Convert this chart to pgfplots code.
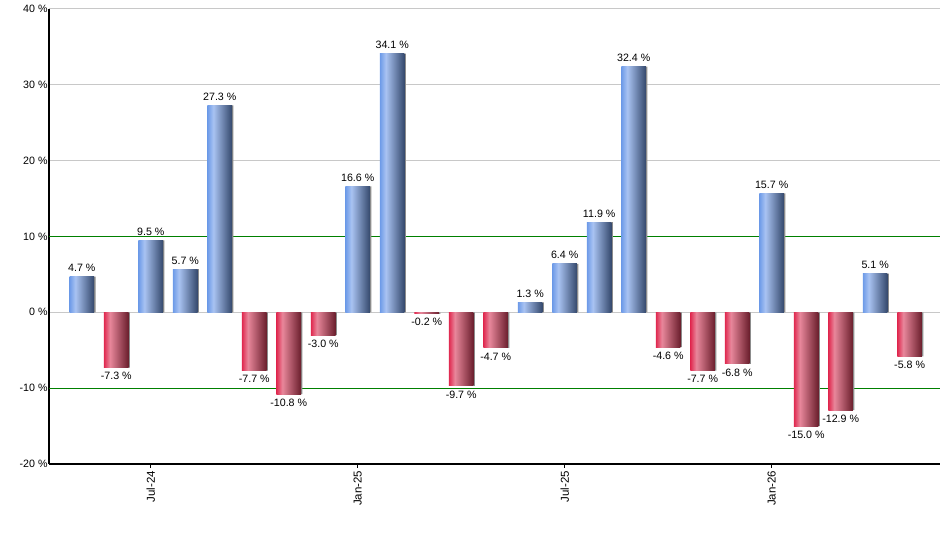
\documentclass[border=0pt]{standalone}
\usepackage{pgfplots}
\usepackage{pgfplotstable}
\pgfplotsset{compat=1.18}
\usepackage{fontspec}
\setmainfont{Liberation Sans}

\definecolor{b1}{HTML}{6E9BE8}
\definecolor{b2}{HTML}{A9C3F2}
\definecolor{b3}{HTML}{34486C}
\definecolor{r1}{HTML}{E02A50}
\definecolor{r2}{HTML}{E8879B}
\definecolor{r3}{HTML}{6A1E2C}
\definecolor{gridgray}{HTML}{C8C8C8}
\definecolor{limitgreen}{HTML}{008000}
\definecolor{shadowgray}{HTML}{8C8C8C}

\pgfdeclarehorizontalshading{bluebar}{100bp}{color(0bp)=(b1); color(25bp)=(b1); color(37bp)=(b2); color(75bp)=(b3); color(100bp)=(b3)}
\pgfdeclarehorizontalshading{redbar}{100bp}{color(0bp)=(r1); color(25bp)=(r1); color(37bp)=(r2); color(75bp)=(r3); color(100bp)=(r3)}

% monthly returns, May-24 .. May-26 (index 0..24)
\pgfplotstableread{
x y
0 4.7
1 -7.3
2 9.5
3 5.7
4 27.3
5 -7.7
6 -10.8
7 -3.0
8 16.6
9 34.1
10 -0.2
11 -9.7
12 -4.7
13 1.3
14 6.4
15 11.9
16 32.4
17 -4.6
18 -7.7
19 -6.8
20 15.7
21 -15.0
22 -12.9
23 5.1
24 -5.8
}\returns

\begin{document}
\begin{tikzpicture}
\pgfkeys{/pgf/number format/assume math mode=true}
\begin{axis}[
    name=ax,
    scale only axis,
    width=668.25pt, height=341.25pt,
    xmin=-0.95, xmax=24.88,
    ymin=-20, ymax=40,
    ybar, bar width=18.4pt,
    axis x line*=bottom, axis y line*=left,
    axis line style={black, line width=1pt},
    xtick={2,8,14,20},
    xticklabels={Jul-24,Jan-25,Jul-25,Jan-26},
    x tick label style={rotate=90, anchor=east, inner xsep=2pt, font=\fontsize{8.6}{10}\selectfont},
    tick align=outside, major tick length=3pt,
    xtick style={black, line width=0.75pt},
    ytick={-20,0,20,30,40},
    extra y ticks={-10,10},
    extra y tick style={grid style={color=limitgreen, line width=0.75pt}},
    ytick style={draw=none},
    yticklabel={\pgfmathprintnumber{\tick}~\%},
    y tick label style={inner xsep=0.5pt, xshift=2.6pt, font=\fontsize{8}{9.6}\selectfont},
    ymajorgrids,
    grid style={color=gridgray, line width=0.75pt},
    nodes near coords style={font=\fontsize{8}{9.6}\selectfont, text=black},
    bar label/.style={nodes near coords={\pgfmathprintnumber[fixed,fixed zerofill,precision=1]{\pgfplotspointmeta}~\%}},
]
\addplot[fill=shadowgray, draw=none, bar shift=1.1pt] table[x=x,y=y] {\returns};
\pgfplotsinvokeforeach{0,2,3,4,8,9,13,14,15,16,20,23}{
  \addplot[draw=none, shade, shading=bluebar, bar shift=0pt, bar label,
      restrict x to domain=#1:#1] table[x=x,y=y] {\returns};
}
\pgfplotsinvokeforeach{1,5,6,7,10,11,12,17,18,19,21,22,24}{
  \addplot[draw=none, shade, shading=redbar, bar shift=0pt, bar label,
      restrict x to domain=#1:#1] table[x=x,y=y] {\returns};
}
\end{axis}
\pgfresetboundingbox
\path[use as bounding box] ([xshift=-36.75pt,yshift=-64.5pt]ax.south west) rectangle ([yshift=6.75pt]ax.north east);
\end{tikzpicture}
\end{document}
